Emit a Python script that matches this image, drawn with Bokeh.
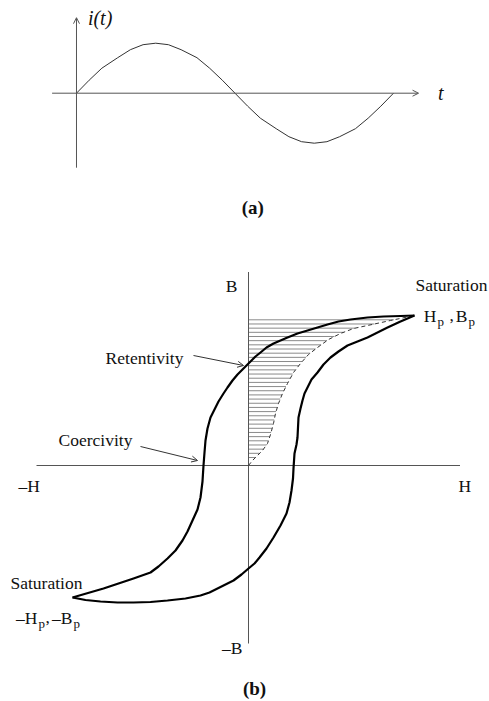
import numpy as np
from bokeh.plotting import figure
from bokeh.models import Range1d, Label, Arrow, OpenHead
from bokeh.layouts import column
from bokeh.embed import file_html
from bokeh.resources import INLINE

SERIF = "Liberation Serif"
INK = "#111111"
AXIS = "#555555"

# ---- (a) excitation current, one period (t in periods, i normalised) ----
wave_t = [0.0, 0.04, 0.08, 0.13, 0.17, 0.21, 0.25, 0.29, 0.33, 0.38, 0.42, 0.46, 0.5,
          0.54, 0.58, 0.63, 0.67, 0.71, 0.75, 0.79, 0.83, 0.88, 0.92, 0.96, 1.0]
wave_i = [0.0, 0.26, 0.5, 0.71, 0.87, 0.97, 1.0, 0.97, 0.87, 0.71, 0.5, 0.26, 0.0,
          -0.26, -0.5, -0.71, -0.87, -0.97, -1.0, -0.97, -0.87, -0.71, -0.5, -0.26, 0.0]

# ---- (b) B-H loop in arbitrary drawing units; saturation at (Hp, Bp) = (166, 150) ----
# descending branch: +saturation -> retentivity -> coercivity -> -saturation
desc_H = [166, 152, 135, 119, 102, 90, 79, 69, 59, 49, 39, 32, 25, 18, 12, 7, 2, -2, -6,
          -11, -16, -21, -25, -30, -34, -38, -41, -43, -44, -45, -46, -48, -51, -56, -61,
          -66, -73, -81, -90, -98, -115, -145, -176]
desc_B = [150, 149.5, 149, 148, 146, 144, 141, 138, 135, 132, 128, 125, 122, 118, 113, 109,
          104, 100, 96, 91, 85, 78, 72, 64, 56, 48, 37, 25, 13, 0, -16, -32, -44, -55, -66,
          -75, -85, -93, -101, -107, -113, -123, -132]
# ascending branch: -saturation -> +saturation
asc_H = [-176, -163, -148, -131, -115, -98, -81, -63, -48, -39, -31, -23, -15, -7, 0, 6, 11,
         18, 25, 32, 38, 41, 43, 44.5, 45, 46, 48, 49, 49.5, 50, 52, 54, 56, 59, 63, 69, 75,
         82, 90, 99, 109, 119, 129, 139, 152, 166]
asc_B = [-132, -134.5, -136, -137, -137, -136.5, -135, -133, -130, -127, -123, -119, -115,
         -109, -103, -98, -92, -83, -72, -60, -48, -37, -25, -13, -3, 12, 21, 28, 38, 48, 57,
         65, 72, 78, 86, 93, 101, 108, 114, 120, 124, 128, 133, 138, 144, 150]
# initial magnetisation curve (dashed)
init_H = [0, 4, 9, 14, 19, 22, 25, 27, 30, 34, 39, 45, 52, 60, 69, 80, 92, 105, 119, 142, 166]
init_B = [0, 5, 10, 15, 22, 31, 42, 52, 62, 72, 82, 93, 102, 111, 118, 126, 132, 137, 140, 145, 150]


def bare(width, height, xr, yr):
    p = figure(width=width, height=height, x_range=Range1d(*xr), y_range=Range1d(*yr),
               x_axis_type=None, y_axis_type=None, output_backend="svg",
               toolbar_location=None, min_border=0)
    p.min_border_left = p.min_border_right = p.min_border_top = p.min_border_bottom = 0
    p.grid.visible = False
    p.outline_line_color = None
    p.background_fill_color = "white"
    p.border_fill_color = "white"
    return p


def txt(p, x, y, s, size="17.5px", style="normal", align="left", base="alphabetic"):
    p.add_layout(Label(x=x, y=y, text=s, text_font=SERIF, text_font_size=size,
                       text_font_style=style, text_color=INK, text_align=align,
                       text_baseline=base))


# ---------------- panel (a) ----------------
top = bare(489, 235, (-0.2397, 1.3028), (-2.846, 1.854))
top.add_layout(Arrow(x_start=-0.077, y_start=0, x_end=1.079, y_end=0,
                     line_color=AXIS, line_width=1,
                     end=OpenHead(size=6, line_color=AXIS, line_width=1)))
top.add_layout(Arrow(x_start=0, y_start=-1.49, x_end=0, y_end=1.51,
                     line_color=AXIS, line_width=1,
                     end=OpenHead(size=6, line_color=AXIS, line_width=1)))
top.line(wave_t, wave_i, line_color="#333333", line_width=1)
txt(top, 0.036, 1.50, "i(t)", size="20px", style="italic", base="middle")
txt(top, 1.140, 0.0, "t", size="20px", style="italic", base="middle")
txt(top, 0.556, -2.29, "(a)", size="19px", style="bold", align="center", base="middle")

# ---------------- panel (b) ----------------
bot = bare(489, 466, (-248, 241), (-236, 230))

# hatching between the B axis and the initial magnetisation curve
hatch_B = np.linspace(145.7, 8, 34)
hatch_end = np.interp(hatch_B, init_B, init_H)
bot.segment(x0=np.zeros_like(hatch_B), y0=hatch_B, x1=hatch_end, y1=hatch_B,
            line_color="#8a8a8a", line_width=1)

# axes
bot.segment(x0=[-212, 0], y0=[0, 193.5], x1=[211.5, 0], y1=[0, -178],
            line_color=AXIS, line_width=1)

bot.line(init_H, init_B, line_color="#333333", line_width=1, line_dash="4 3")
bot.line(desc_H, desc_B, line_color="black", line_width=2.2, line_join="round")
bot.line(asc_H, asc_B, line_color="black", line_width=2.2, line_join="round")

# pointers to retentivity and coercivity
for xs, ys, xe, ye in [(-55, 110, -5, 100), (-108, 19, -51, 5)]:
    bot.add_layout(Arrow(x_start=xs, y_start=ys, x_end=xe, y_end=ye,
                         line_color="#333333", line_width=1,
                         end=OpenHead(size=6, line_color="#333333", line_width=1)))

# axis labels
txt(bot, -11, 180, "B", align="right")
txt(bot, -6, -182, "–B", align="right")
txt(bot, -230, -20, "–H")
txt(bot, 210, -20, "H")

# annotations
txt(bot, -104, 108, "Retentivity", align="center")
txt(bot, -153, 26, "Coercivity", align="center")
txt(bot, 167, 181, "Saturation")
txt(bot, -238, -117, "Saturation")

# saturation point labels with subscripts
txt(bot, 188, 150, "H", align="right")
txt(bot, 189, 144, "p", size="13px")
txt(bot, 201, 150, ",")
txt(bot, 219, 150, "B", align="right")
txt(bot, 220, 144, "p", size="13px")

txt(bot, -211, -152, "–H", align="right")
txt(bot, -210, -158, "p", size="13px")
txt(bot, -203, -152, ",")
txt(bot, -176, -152, "–B", align="right")
txt(bot, -175, -158, "p", size="13px")

txt(bot, 6, -223, "(b)", size="19px", style="bold", align="center", base="middle")

layout = column(top, bot, spacing=0)
open("out.html", "w").write(file_html(layout, INLINE))
